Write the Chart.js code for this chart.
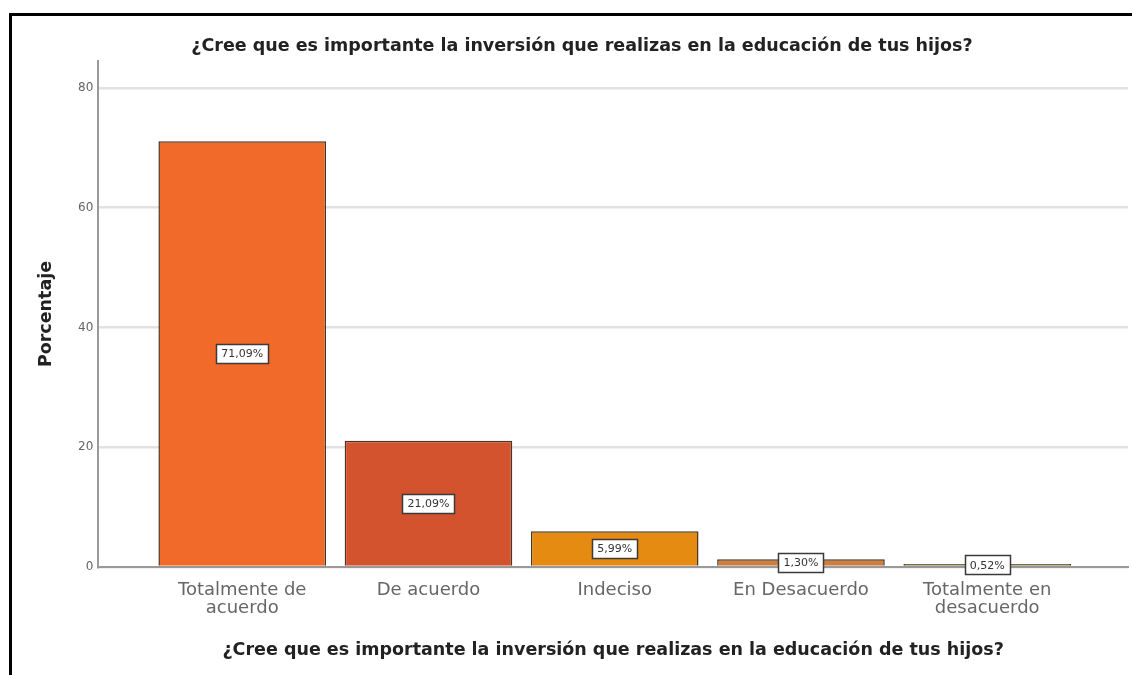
<!DOCTYPE html>
<html>
<head>
<meta charset="utf-8">
<script src="https://cdn.jsdelivr.net/npm/chart.js@4"></script>
<style>
  html, body { margin: 0; padding: 0; background: #fff; }
  #wrap { position: relative; width: 1132px; height: 675px; overflow: hidden; }
  #frame { position: absolute; left: 9px; top: 13px; width: 1200px; height: 700px; border-top: 3px solid #000; border-left: 3px solid #000; }
  canvas { position: absolute; left: 0; top: 0; }
</style>
</head>
<body>
<div id="wrap">
  <div id="frame"></div>
  <canvas id="chart" width="1132" height="675"></canvas>
</div>
<script>
const questionText = "¿Cree que es importante la inversión que realizas en la educación de tus hijos?";
const categories = [
  ["Totalmente de", "acuerdo"],
  "De acuerdo",
  "Indeciso",
  "En Desacuerdo",
  ["Totalmente en", "desacuerdo"]
];
const percentages = [71.09, 21.09, 5.99, 1.30, 0.52];
const barColors = ["#f26a2a", "#d3532f", "#e58b12", "#cf7f3c", "#857f3a"];
const yTicks = [0, 20, 40, 60, 80];

// white boxes with the percentage in the middle of each bar
const valueBoxes = {
  id: "valueBoxes",
  afterDatasetsDraw(chart) {
    const ctx = chart.ctx;
    const meta = chart.getDatasetMeta(0);
    ctx.save();
    ctx.font = "11px 'DejaVu Sans'";
    ctx.textAlign = "center";
    ctx.textBaseline = "middle";
    meta.data.forEach((bar, i) => {
      const txt = percentages[i].toFixed(2).replace(".", ",") + "%";
      const w = Math.round(ctx.measureText(txt).width + 10);
      const h = 19;
      const cy = (bar.y + bar.base) / 2;
      const left = Math.round(bar.x - w / 2);
      const top = Math.round(cy - h / 2);
      ctx.fillStyle = "#fff";
      ctx.fillRect(left, top, w, h);
      ctx.strokeStyle = "#3a3a3a";
      ctx.lineWidth = 1.5;
      ctx.strokeRect(left + 0.5, top + 0.5, w, h);
      ctx.fillStyle = "#333";
      ctx.fillText(txt, bar.x, cy + 1);
    });
    ctx.restore();
  }
};

new Chart(document.getElementById("chart").getContext("2d"), {
  type: "bar",
  data: {
    datasets: [{
      data: percentages.map((v, i) => ({ x: i, y: v })),
      backgroundColor: barColors,
      borderColor: "#4a3526",
      borderWidth: 1.5,
      barPercentage: 0.9,
      categoryPercentage: 1
    }]
  },
  options: {
    responsive: false,
    animation: false,
    layout: { padding: { left: 36, right: 4, top: 0, bottom: 14 } },
    plugins: {
      legend: { display: false },
      tooltip: { enabled: false },
      title: {
        display: true,
        text: questionText,
        color: "#222",
        font: { family: "'DejaVu Sans'", size: 17.5, weight: "bold" },
        padding: { top: 36, bottom: 4 }
      }
    },
    scales: {
      x: {
        type: "linear",
        offset: false,
        min: -0.773,
        max: 4.756,
        afterBuildTicks: (axis) => { axis.ticks = axis.ticks.filter(t => Number.isInteger(t.value) && t.value >= 0); },
        ticks: {
          stepSize: 1,
          autoSkip: false,
          maxRotation: 0,
          color: "#666",
          padding: 6,
          font: { family: "'DejaVu Sans'", size: 18, lineHeight: 1.0 },
          callback: (v) => categories[v]
        },
        grid: { display: false },
        border: { color: "#999", width: 2 },
        title: {
          display: true,
          text: questionText,
          color: "#222",
          font: { family: "'DejaVu Sans'", size: 17.5, weight: "bold" },
          padding: { top: 17, bottom: 0 }
        }
      },
      y: {
        min: 0,
        max: 84.5,
        afterBuildTicks: (axis) => { axis.ticks = yTicks.map(v => ({ value: v })); },
        ticks: {
          color: "#666",
          padding: 5,
          font: { family: "'DejaVu Sans'", size: 12 }
        },
        grid: { color: "#e2e2e2", lineWidth: 2.5, drawTicks: false },
        border: { color: "#999", width: 2 },
        title: {
          display: true,
          text: "Porcentaje",
          color: "#222",
          font: { family: "'DejaVu Sans'", size: 17.5, weight: "bold" },
          padding: { top: 0, bottom: 16 }
        }
      }
    }
  },
  plugins: [valueBoxes]
});
</script>
</body>
</html>
